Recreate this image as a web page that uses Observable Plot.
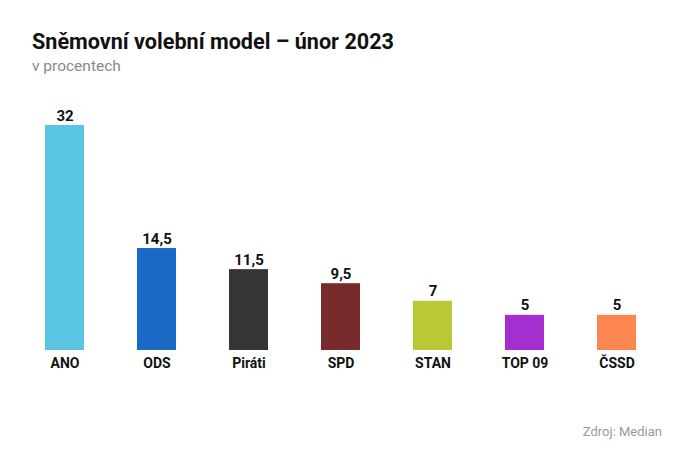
<!DOCTYPE html>
<html>
<head>
<meta charset="utf-8">
<script src="https://cdn.jsdelivr.net/npm/d3@7"></script>
<script src="https://cdn.jsdelivr.net/npm/@observablehq/plot@0.6"></script>
<style>
  html, body { margin: 0; padding: 0; background: #fff; }
  body { width: 682px; height: 465px; position: relative; overflow: hidden; font-family: Roboto, "Noto Sans", sans-serif; }
  #title { position: absolute; left: 32px; top: 29px; font-size: 21.6px; font-weight: 700; color: #111; white-space: nowrap; }
  #subtitle { position: absolute; left: 32px; top: 57px; font-size: 15.5px; color: #8a8a8a; white-space: nowrap; }
  #chart { position: absolute; left: 0; top: 90px; }
  #source { position: absolute; right: 20px; top: 424px; font-size: 13px; color: #9a9a9a; white-space: nowrap; }
</style>
</head>
<body>
<div id="title">Sněmovní volební model – únor 2023</div>
<div id="subtitle">v procentech</div>
<div id="chart"></div>
<div id="source">Zdroj: Median</div>
<script>
const parties = ["ANO", "ODS", "Piráti", "SPD", "STAN", "TOP 09", "ČSSD"];
const values = [32, 14.5, 11.5, 9.5, 7, 5, 5];
const colors = ["#5bc5e5", "#1a69c6", "#353535", "#782b2c", "#b9c935", "#a52ed1", "#fb8650"];

const data = parties.map((p, i) => ({party: p, value: values[i]}));
const locale = d3.formatLocale({decimal: ",", thousands: " ", grouping: [3], currency: ["", " Kč"]});
const fmt = locale.format("~g");

const chart = Plot.plot({
  width: 682,
  height: 300,
  marginLeft: 0,
  marginRight: 0,
  marginTop: 35,
  marginBottom: 40,
  style: {fontFamily: "Roboto, 'Noto Sans', sans-serif", background: "#fff"},
  x: {domain: parties, paddingInner: 0.576, paddingOuter: 0.4945, label: null},
  y: {domain: [0, 32], axis: null},
  color: {domain: parties, range: colors},
  marks: [
    Plot.barY(data, {x: "party", y: "value", fill: "party"}),
    Plot.text(data, {x: "party", y: "value", text: d => fmt(d.value), lineAnchor: "bottom", dy: -5, fontSize: 15, fontWeight: 700, fill: "#111"}),
    Plot.axisX({tickSize: 0, tickPadding: 8, fontSize: 14, fontWeight: 700, fill: "#111", label: null})
  ]
});
document.getElementById("chart").appendChild(chart);
</script>
</body>
</html>
